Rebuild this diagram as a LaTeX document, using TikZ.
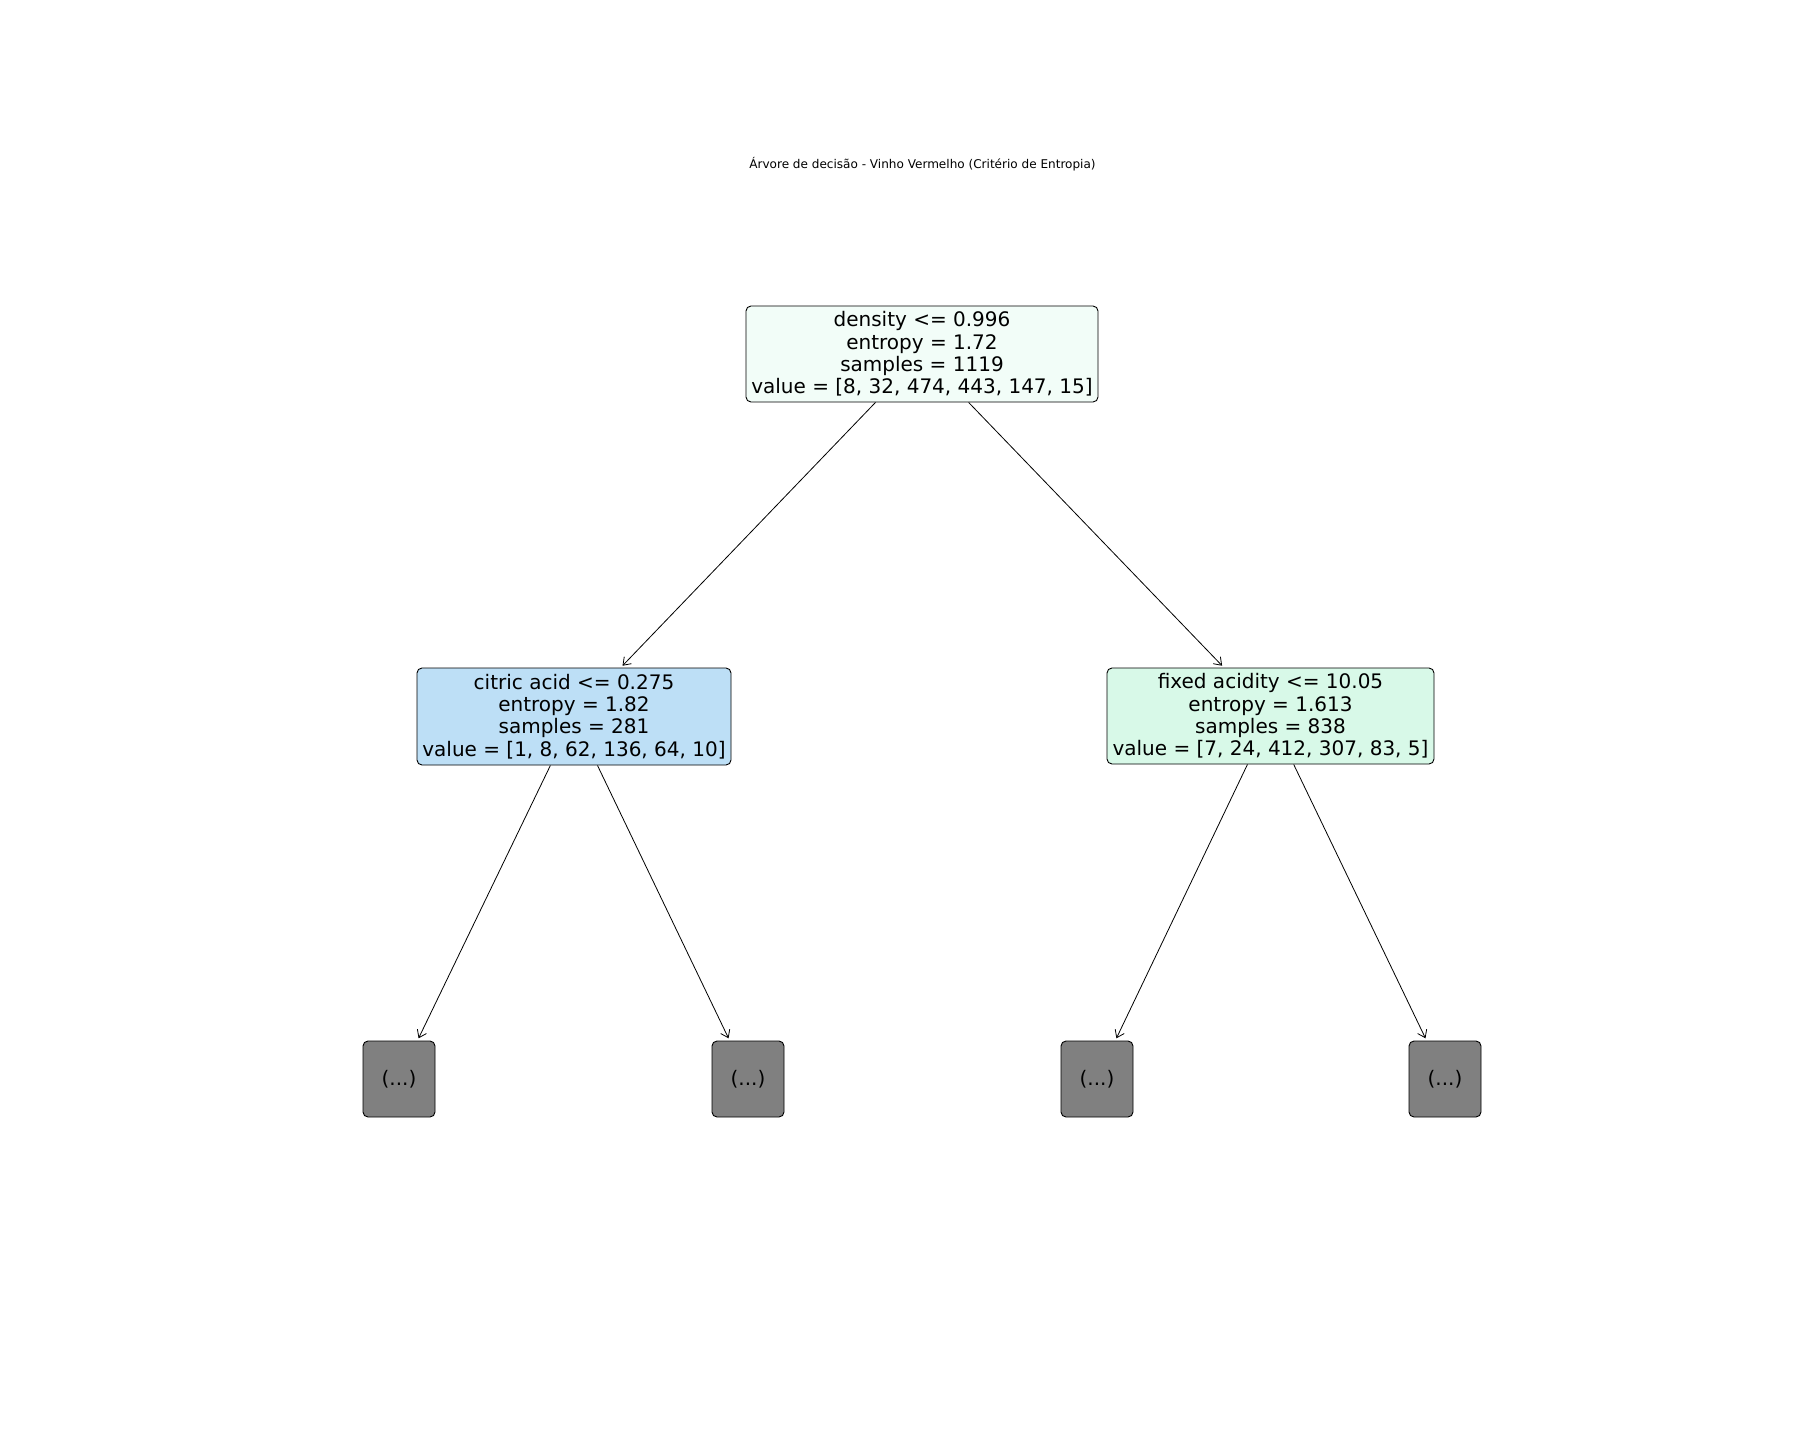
\documentclass[tikz,border=0pt]{standalone}
\usepackage{fontspec}
\setmainfont{DejaVu Sans}
\usetikzlibrary{arrows.meta}

\definecolor{rootfill}{HTML}{F2FDF8}
\definecolor{leftfill}{HTML}{BDDFF6}
\definecolor{rightfill}{HTML}{D8F9E8}
\definecolor{leaffill}{HTML}{808080}

\tikzset{
  treebox/.style={draw=black, line width=0.9pt, rounded corners=5pt,
    inner sep=0pt, align=center,
    font=\fontsize{20pt}{22.3pt}\selectfont},
  edge/.style={line width=0.8pt, -{Straight Barb[length=7pt,width=10pt]},
    shorten >=2.5pt},
}

\begin{document}
\begin{tikzpicture}[x=1pt, y=-1pt]
  \useasboundingbox (0,0) rectangle (1800,1440);

  % title
  \node[anchor=base, font=\fontsize{12.05pt}{14pt}\selectfont] (title) at (922.5,168)
    {Árvore de decisão - Vinho Vermelho (Critério de Entropia)};

  % split nodes
  \node[treebox, fill=rootfill, minimum width=352pt, minimum height=96pt] (root) at (922,354)
    {density <= 0.996\\entropy = 1.72\\samples = 1119\\value = [8, 32, 474, 443, 147, 15]};
  \node[treebox, fill=leftfill, minimum width=314pt, minimum height=97pt] (left) at (574,716.5)
    {citric acid <= 0.275\\entropy = 1.82\\samples = 281\\value = [1, 8, 62, 136, 64, 10]};
  \node[treebox, fill=rightfill, minimum width=327pt, minimum height=96pt] (right) at (1270.5,716)
    {fixed acidity <= 10.05\\entropy = 1.613\\samples = 838\\value = [7, 24, 412, 307, 83, 5]};

  % truncated subtrees
  \node[treebox, fill=leaffill, minimum width=72pt, minimum height=76pt] (ll) at (399,1079) {(...)};
  \node[treebox, fill=leaffill, minimum width=72pt, minimum height=76pt] (lr) at (748,1079) {(...)};
  \node[treebox, fill=leaffill, minimum width=72pt, minimum height=76pt] (rl) at (1097,1079) {(...)};
  \node[treebox, fill=leaffill, minimum width=72pt, minimum height=76pt] (rr) at (1445,1079) {(...)};

  % edges
  \draw[edge] (root) -- (left);
  \draw[edge] (root) -- (right);
  \draw[edge] (left) -- (ll);
  \draw[edge] (left) -- (lr);
  \draw[edge] (right) -- (rl);
  \draw[edge] (right) -- (rr);
\end{tikzpicture}
\end{document}
